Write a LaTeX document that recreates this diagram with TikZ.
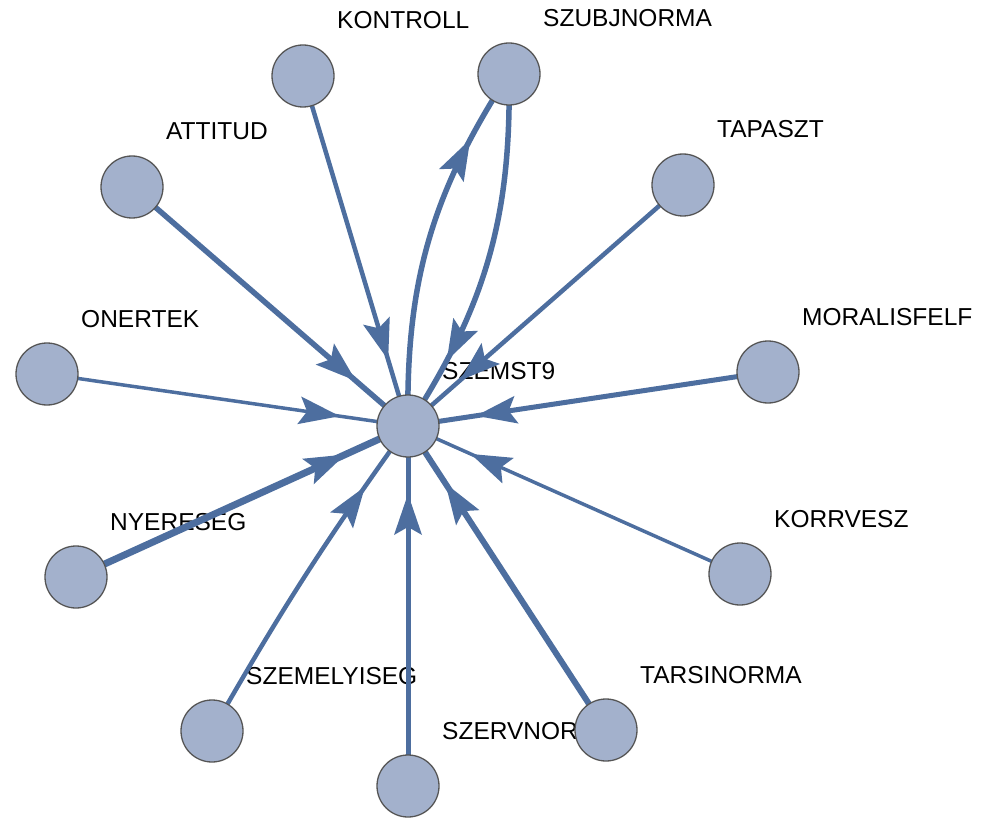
\documentclass[tikz,border=0pt]{standalone}
\usepackage{fontspec}
\setmainfont{Liberation Sans}
\definecolor{vfill}{HTML}{A3B1CC}
\definecolor{vline}{HTML}{555555}
\definecolor{ecol}{HTML}{4D6E9F}
\pgfdeclarelayer{lbl}
\pgfdeclarelayer{edg}
\pgfsetlayers{lbl,edg,main}
\tikzset{
  vtx/.style={circle,fill=vfill,draw=vline,line width=1.3pt,minimum size=62pt,inner sep=0pt},
  lab/.style={anchor=base west,inner sep=0pt,font=\fontsize{24.5}{24.5}\selectfont},
  lnk/.style={draw=ecol,line width=#1},
  ahd/.pic={\fill[ecol] (4pt,0pt) -- (-37pt,14pt) -- (-29pt,0pt) -- (-37pt,-14pt) -- cycle;},
  amark/.style={pos=0.8,sloped,allow upside down},
}
\begin{document}
\begin{tikzpicture}[x=1pt,y=-1pt]
\useasboundingbox (0,0) rectangle (983,821);
% vertices
\node[vtx] (c)   at (408,426) {};
\node[vtx] (kon) at (303,76) {};
\node[vtx] (szu) at (509,74) {};
\node[vtx] (att) at (132,187) {};
\node[vtx] (tap) at (683,185) {};
\node[vtx] (one) at (47,374) {};
\node[vtx] (mor) at (768,372) {};
\node[vtx] (nye) at (76,577) {};
\node[vtx] (kor) at (740,574) {};
\node[vtx] (sze) at (212,731) {};
\node[vtx] (szv) at (408,786) {};
\node[vtx] (tar) at (606,730) {};
% labels
\begin{pgfonlayer}{lbl}
\node[lab] (lc)   at ([shift={(34,-47)}]c.center)   {SZEMST9};
\node[lab] (lkon) at ([shift={(34,-47)}]kon.center) {KONTROLL};
\node[lab] (lszu) at ([shift={(34,-47)}]szu.center) {SZUBJNORMA};
\node[lab] (latt) at ([shift={(34,-47)}]att.center) {ATTITUD};
\node[lab] (ltap) at ([shift={(34,-47)}]tap.center) {TAPASZT};
\node[lab] (lone) at ([shift={(34,-47)}]one.center) {ONERTEK};
\node[lab] (lmor) at ([shift={(34,-47)}]mor.center) {MORALISFELF};
\node[lab] (lnye) at ([shift={(34,-47)}]nye.center) {NYERESEG};
\node[lab] (lkor) at ([shift={(34,-47)}]kor.center) {KORRVESZ};
\node[lab] (lsze) at ([shift={(34,-47)}]sze.center) {SZEMELYISEG};
\node[lab] (lszv) at ([shift={(34,-47)}]szv.center) {SZERVNOR};
\node[lab] (ltar) at ([shift={(34,-47)}]tar.center) {TARSINORMA};
\end{pgfonlayer}
% edges
\begin{pgfonlayer}{edg}
\draw[lnk=4.5pt] (kon.center) -- (c.center) pic[amark]{ahd};
\draw[lnk=5.5pt] (att.center) -- (c.center) pic[amark]{ahd};
\draw[lnk=4.5pt] (tap.center) -- (c.center) pic[amark]{ahd};
\draw[lnk=3.5pt] (one.center) -- (c.center) pic[amark]{ahd};
\draw[lnk=5pt]   (mor.center) -- (c.center) pic[amark]{ahd};
\draw[lnk=7pt]   (nye.center) -- (c.center) pic[amark]{ahd};
\draw[lnk=3.5pt] (kor.center) -- (c.center) pic[amark]{ahd};
\draw[lnk=4.5pt] (sze.center) to[bend left=3] pic[amark]{ahd} (c.center);
\draw[lnk=5pt]   (szv.center) -- (c.center) pic[amark]{ahd};
\draw[lnk=6pt]   (tar.center) -- (c.center) pic[amark]{ahd};
\draw[lnk=5.5pt] (c.center) to[bend left=17] pic[amark]{ahd} (szu.center);
\draw[lnk=5.5pt] (szu.center) to[bend left=17] pic[amark]{ahd} (c.center);
\end{pgfonlayer}
\end{tikzpicture}
\end{document}
